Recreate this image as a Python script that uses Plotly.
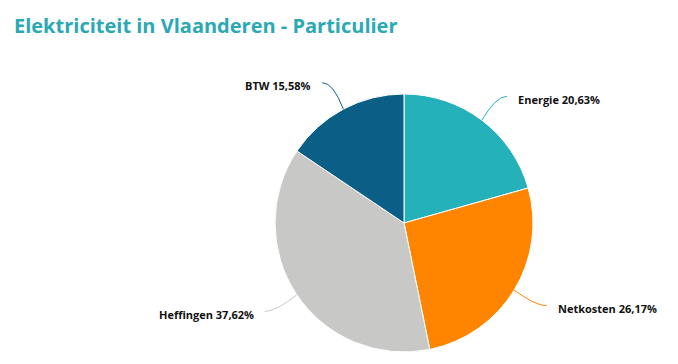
import math
import plotly.graph_objects as go

categories = ["Energie", "Netkosten", "Heffingen", "BTW"]
values = [20.63, 26.17, 37.62, 15.58]
colors = ["#24B1BA", "#FF8500", "#C8C8C6", "#0B5F86"]
title_text = "Elektriciteit in Vlaanderen - Particulier"

W, H = 678, 364
CX, CY, R = 404, 223, 129
DIST = 30

def px(x):
    return x / W

def py(y):
    return 1 - y / H

fig = go.Figure(go.Pie(
    labels=categories, values=values, sort=False, direction="clockwise",
    rotation=0, marker=dict(colors=colors, line=dict(color="white", width=1)),
    textinfo="none", hoverinfo="label+percent", showlegend=False,
    domain=dict(x=[px(CX - R), px(CX + R)], y=[py(CY + R), py(CY - R)]),
))

total = sum(values)
cum = 0.0
shapes, annotations = [], []
for cat, val, col in zip(categories, values, colors):
    mid = (cum + val / 2) / total * 2 * math.pi
    cum += val
    s, c = math.sin(mid), -math.cos(mid)
    ex, ey = CX + R * s, CY + R * c
    bx, by = CX + (R + DIST) * s, CY + (R + DIST) * c
    side = 1 if s >= 0 else -1
    endx = bx + side * 7
    path = (f"M {px(ex)},{py(ey)} Q {px(bx - side * 4)},{py(by)} {px(endx)},{py(by)}")
    shapes.append(dict(type="path", xref="paper", yref="paper", path=path,
                       line=dict(color=col, width=1)))
    label = f"{cat} {val:.2f}%".replace(".", ",")
    annotations.append(dict(
        x=px(bx + side * 16), y=py(by + 3), xref="paper", yref="paper",
        text=f"<b>{label}</b>", showarrow=False,
        xanchor="left" if side > 0 else "right", yanchor="middle",
        font=dict(family="Open Sans", size=11, color="#111111"),
    ))

annotations.append(dict(
    x=px(12), y=py(26), xref="paper", yref="paper", text=title_text,
    showarrow=False, xanchor="left", yanchor="middle",
    font=dict(family="Open Sans", size=20, color="#2AA9B3", weight=700),
))

fig.update_layout(
    width=W, height=H, margin=dict(l=0, r=0, t=0, b=0),
    paper_bgcolor="white", plot_bgcolor="white",
    shapes=shapes, annotations=annotations,
)

fig.write_html("out.html", config={"displayModeBar": False},
               post_script="document.body.style.margin='0';")
